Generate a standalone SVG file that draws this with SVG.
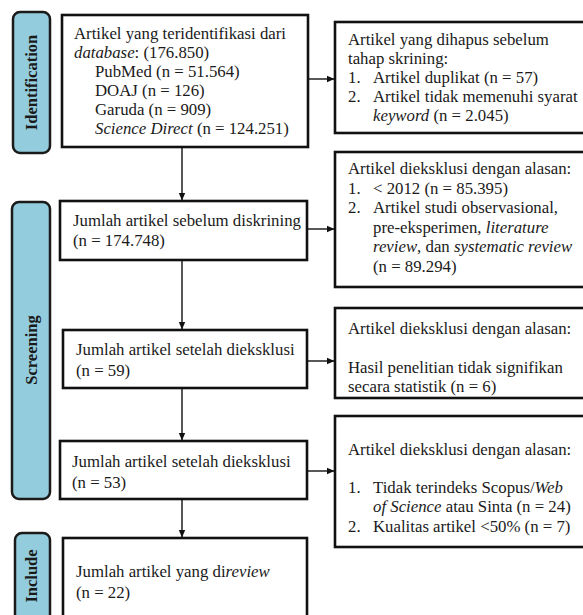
<svg xmlns="http://www.w3.org/2000/svg" width="583" height="615" viewBox="0 0 583 615">
<style>
.bar{fill:#93CDDD;stroke:#1a1a1a;stroke-width:2.5}
.box{fill:#fff;stroke:#111;stroke-width:2.6}
.t{font-family:"Liberation Serif","Times New Roman",serif;font-size:16.8px;fill:#1a1a1a}
.lbl{font-family:"Liberation Serif","Times New Roman",serif;font-size:16.5px;font-weight:bold;fill:#1a1a1a}
.c{stroke:#111;stroke-width:1.4;fill:none}
</style>
<defs>
<marker id="ah" markerWidth="8" markerHeight="8" refX="7" refY="4" orient="auto" markerUnits="userSpaceOnUse">
<path d="M0,0.8 L7.5,4 L0,7.2 Z" fill="#111"/>
</marker>
</defs>
<rect width="583" height="615" fill="#fff"/>
<g id="phase-identification">
<rect class="bar" x="13" y="12" width="37" height="141" rx="7"/>
<text class="lbl" transform="translate(37,82.5) rotate(-90)" text-anchor="middle">Identification</text>
</g>
<g id="phase-screening">
<rect class="bar" x="12" y="202" width="38" height="297" rx="7"/>
<text class="lbl" transform="translate(37,350) rotate(-90)" text-anchor="middle">Screening</text>
</g>
<g id="phase-include">
<rect class="bar" x="15" y="533" width="35" height="95" rx="7"/>
<text class="lbl" transform="translate(37,576) rotate(-90)" text-anchor="middle">Include</text>
</g>
<g id="connectors">
<line class="c" x1="182" y1="147" x2="182" y2="200" marker-end="url(#ah)"/>
<line class="c" x1="182" y1="260" x2="182" y2="329" marker-end="url(#ah)"/>
<line class="c" x1="182" y1="388" x2="182" y2="440" marker-end="url(#ah)"/>
<line class="c" x1="182" y1="499" x2="182" y2="537" marker-end="url(#ah)"/>
<line class="c" x1="308" y1="79" x2="334" y2="79" marker-end="url(#ah)"/>
<line class="c" x1="307" y1="229" x2="334" y2="229" marker-end="url(#ah)"/>
<line class="c" x1="307" y1="361" x2="334" y2="361" marker-end="url(#ah)"/>
<line class="c" x1="307" y1="471" x2="334" y2="471" marker-end="url(#ah)"/>
</g>
<g id="node-identified">
<rect class="box" x="62" y="15" width="246" height="132"/>
<text class="t" x="74" y="39">Artikel yang teridentifikasi dari</text>
<text class="t" x="74" y="58"><tspan font-style="italic">database</tspan>: (176.850)</text>
<text class="t" x="95" y="77">PubMed (n = 51.564)</text>
<text class="t" x="95" y="96">DOAJ (n = 126)</text>
<text class="t" x="95" y="115">Garuda (n = 909)</text>
<text class="t" x="95" y="134"><tspan font-style="italic">Science Direct</tspan> (n = 124.251)</text>
</g>
<g id="node-removed">
<rect class="box" x="335" y="22" width="260" height="111"/>
<text class="t" x="348" y="45">Artikel yang dihapus sebelum</text>
<text class="t" x="348" y="64">tahap skrining:</text>
<text class="t" x="348" y="83">1.</text>
<text class="t" x="373" y="83">Artikel duplikat (n = 57)</text>
<text class="t" x="348" y="102">2.</text>
<text class="t" x="373" y="102">Artikel tidak memenuhi syarat</text>
<text class="t" x="373" y="121"><tspan font-style="italic">keyword</tspan> (n = 2.045)</text>
</g>
<g id="node-before-screening">
<rect class="box" x="60" y="201" width="247" height="59"/>
<text class="t" x="73" y="226">Jumlah artikel sebelum diskrining</text>
<text class="t" x="73" y="246">(n = 174.748)</text>
</g>
<g id="node-excluded-1">
<rect class="box" x="335" y="152" width="260" height="135"/>
<text class="t" x="348" y="174">Artikel dieksklusi dengan alasan:</text>
<text class="t" x="348" y="193.5">1.</text>
<text class="t" x="373" y="193.5">&lt; 2012 (n = 85.395)</text>
<text class="t" x="348" y="213">2.</text>
<text class="t" x="373" y="213">Artikel studi observasional,</text>
<text class="t" x="373" y="232.5">pre-eksperimen, <tspan font-style="italic">literature</tspan></text>
<text class="t" x="373" y="252"><tspan font-style="italic">review</tspan>, dan <tspan font-style="italic">systematic review</tspan></text>
<text class="t" x="373" y="271.5">(n = 89.294)</text>
</g>
<g id="node-after-exclusion-1">
<rect class="box" x="63" y="330" width="244" height="58"/>
<text class="t" x="76" y="355">Jumlah artikel setelah dieksklusi</text>
<text class="t" x="76" y="376">(n = 59)</text>
</g>
<g id="node-excluded-2">
<rect class="box" x="335" y="308" width="260" height="90"/>
<text class="t" x="348" y="334">Artikel dieksklusi dengan alasan:</text>
<text class="t" x="348" y="373">Hasil penelitian tidak signifikan</text>
<text class="t" x="348" y="392">secara statistik (n = 6)</text>
</g>
<g id="node-after-exclusion-2">
<rect class="box" x="60" y="441" width="247" height="58"/>
<text class="t" x="72" y="467">Jumlah artikel setelah dieksklusi</text>
<text class="t" x="72" y="488">(n = 53)</text>
</g>
<g id="node-excluded-3">
<rect class="box" x="335" y="416" width="260" height="131"/>
<text class="t" x="348" y="455">Artikel dieksklusi dengan alasan:</text>
<text class="t" x="348" y="493">1.</text>
<text class="t" x="373" y="493">Tidak terindeks Scopus/<tspan font-style="italic">Web</tspan></text>
<text class="t" x="373" y="512"><tspan font-style="italic">of Science</tspan> atau Sinta (n = 24)</text>
<text class="t" x="348" y="532">2.</text>
<text class="t" x="373" y="532">Kualitas artikel &lt;50% (n = 7)</text>
</g>
<g id="node-included">
<rect class="box" x="63" y="538" width="244" height="90"/>
<text class="t" x="76" y="577">Jumlah artikel yang di<tspan font-style="italic">review</tspan></text>
<text class="t" x="76" y="598">(n = 22)</text>
</g>
</svg>
